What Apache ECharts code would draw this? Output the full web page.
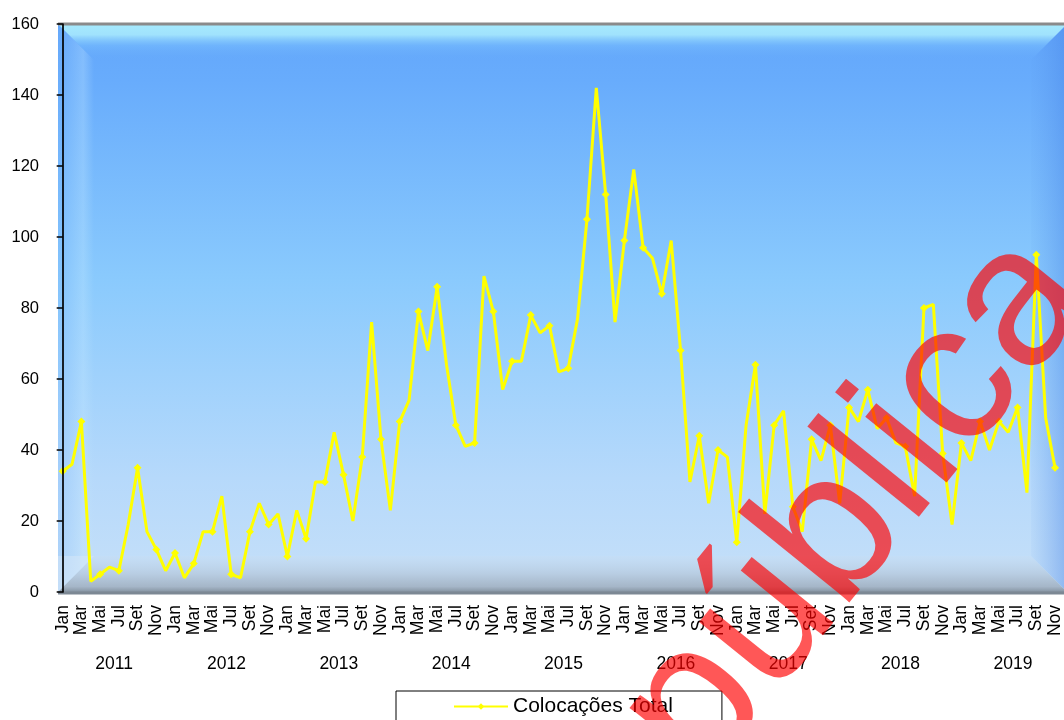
<!DOCTYPE html>
<html><head><meta charset="utf-8">
<script src="https://cdn.jsdelivr.net/npm/echarts@6/dist/echarts.min.js"></script>
<style>html,body{margin:0;padding:0;background:#fff}#c{width:1064px;height:720px}</style>
</head><body><div id="c"></div>
<script>
// ---- data ----
const years = [2011, 2012, 2013, 2014, 2015, 2016, 2017, 2018, 2019];
const monthNames = ['Jan','Fev','Mar','Abr','Mai','Jun','Jul','Ago','Set','Out','Nov','Dez'];
const v2011 = [34, 36, 48, 3, 5, 7, 6, 19, 35, 17, 12, 6];
const v2012 = [11, 4, 8, 17, 17, 27, 5, 4, 17, 25, 19, 22];
const v2013 = [10, 23, 15, 31, 31, 45, 33, 20, 38, 76, 43, 23];
const v2014 = [48, 54, 79, 68, 86, 64, 47, 41, 42, 89, 79, 57];
const v2015 = [65, 65, 78, 73, 75, 62, 63, 77, 105, 142, 112, 76];
const v2016 = [99, 119, 97, 94, 84, 99, 68, 31, 44, 25, 40, 38];
const v2017 = [14, 47, 64, 22, 47, 51, 24, 17, 43, 37, 47, 25];
const v2018 = [52, 48, 57, 46, 49, 42, 41, 27, 80, 81, 39, 19];
const v2019 = [42, 37, 48, 40, 48, 45, 52, 28, 95, 49, 35];
const seriesName = 'Colocações Total';
const yTicks = [0, 20, 40, 60, 80, 100, 120, 140, 160];
const watermarkText = 'pública';

// ---- build ----
const values = [].concat(v2011, v2012, v2013, v2014, v2015, v2016, v2017, v2018, v2019);
const categories = [];
years.forEach(y => monthNames.forEach(m => categories.push(m)));
categories.length = values.length;
const yearPositions = years.map((y, i) => i * 12 + 5.5);

const F = "'Liberation Sans',Arial,sans-serif";
const L = 58, T = 24, W = 1009, H = 568, R = L + W, B = T + H, d = 36;

const chart = echarts.init(document.getElementById('c'), null, {renderer: 'canvas'});
const lg = (x1, y1, x2, y2, stops) => new echarts.graphic.LinearGradient(x1, y1, x2, y2, stops.map(s => ({offset: s[0], color: s[1]})));
const th = 51 * Math.PI / 180;
const wmSize = 198;
const wmX = 708 - 0.31 * wmSize * Math.sin(th), wmY = 788 - 0.31 * wmSize * Math.cos(th);

chart.setOption({
  animation: false,
  backgroundColor: '#ffffff',
  grid: {left: L, top: T, width: W, height: H, containLabel: false},
  graphic: [
    {type: 'rect', z: -20, shape: {x: L, y: T, width: W, height: H},
     style: {fill: lg(0, 0, 0, 1, [[0, '#62a6fb'], [0.1, '#68acfc'], [0.45, '#8acafd'], [0.8, '#b6d9fb'], [1, '#c6e0f8']])}},
    // left bevel
    {type: 'polygon', z: -19, shape: {points: [[L, T], [L + d, T + d], [L + d, B - d], [L, B]]},
     style: {fill: lg(0, 0, 1, 0, [[0, 'rgba(110,175,250,0.25)'], [0.7, 'rgba(195,232,255,0.32)'], [1, 'rgba(195,232,255,0.0)']])}},
    // right bevel
    {type: 'polygon', z: -19, shape: {points: [[R, T], [R, B], [R - d, B - d], [R - d, T + d]]},
     style: {fill: lg(0, 0, 1, 0, [[0, 'rgba(90,150,235,0.05)'], [1, 'rgba(70,130,230,0.45)']])}},
    // top bevel
    {type: 'polygon', z: -18, shape: {points: [[L, T], [R, T], [R - d, T + d], [L + d, T + d]]},
     style: {fill: lg(0, 0, 0, 1, [[0, '#a6eafd'], [0.3, '#a0e2fd'], [0.6, 'rgba(120,190,253,0.55)'], [1, 'rgba(104,172,252,0)']])}},
    // bottom bevel
    {type: 'polygon', z: -18, shape: {points: [[L, B], [L + d, B - d], [R - d, B - d], [R, B]]},
     style: {fill: lg(0, 0, 0, 1, [[0, 'rgba(198,222,245,0.6)'], [0.5, '#b8cde2'], [0.85, '#a5b6c8'], [1, '#8694a2']])}},
    // bottom-left corner light triangle
    {type: 'polygon', z: -17, shape: {points: [[L, B], [L + d, B - d], [L, B - d]]},
     style: {fill: 'rgba(215,232,248,0.5)'}},
    // top border line
    {type: 'line', z: -16, shape: {x1: L, y1: T, x2: R, y2: T}, style: {stroke: '#8a8a8a', lineWidth: 3}},
    // bottom border line
    {type: 'line', z: -16, shape: {x1: L, y1: B + 1, x2: R, y2: B + 1}, style: {stroke: '#7c8894', lineWidth: 3}},
    // watermark
    {type: 'text', z: 100, x: wmX, y: wmY, rotation: th,
     style: {text: watermarkText, font: wmSize + "px 'Liberation Sans',Arial,sans-serif", fill: 'rgba(255,0,0,0.66)', align: 'left', verticalAlign: 'middle'}}
  ],
  legend: {
    data: [seriesName], left: 396, top: 691, orient: 'horizontal',
    borderColor: '#000', borderWidth: 1, borderRadius: 0,
    padding: [5, 49, 20, 57], itemWidth: 54, itemHeight: 8, itemGap: 5,
    textStyle: {fontFamily: F, fontSize: 21, color: '#000'}
  },
  xAxis: [
    {type: 'category', data: categories, boundaryGap: true, position: 'bottom',
     axisLine: {show: false}, axisTick: {show: false}, splitLine: {show: false},
     axisLabel: {interval: 1, rotate: 90, margin: 13, showMinLabel: true, showMaxLabel: true,
       fontFamily: F, fontSize: 17.5, color: '#000'}},
    {type: 'value', min: -0.5, max: values.length - 0.5, position: 'bottom',
     axisLine: {show: false}, axisTick: {show: false}, splitLine: {show: false},
     axisLabel: {customValues: yearPositions, margin: 63, fontFamily: F, fontSize: 17.5, color: '#000',
       formatter: v => String(years[Math.round((v - 5.5) / 12)])}}
  ],
  yAxis: {
    type: 'value', min: yTicks[0], max: yTicks[yTicks.length - 1], interval: 20, z: 5,
    axisLine: {show: true, lineStyle: {color: '#000', width: 1.7}},
    axisTick: {show: true, length: 6, lineStyle: {color: '#000', width: 1.5}},
    splitLine: {show: false},
    axisLabel: {margin: 19, fontFamily: F, fontSize: 16.5, color: '#000'}
  },
  series: [{
    name: seriesName, type: 'line', data: values, xAxisIndex: 0,
    symbol: 'diamond', symbolSize: 8, showSymbol: true,
    lineStyle: {color: '#ffff00', width: 3},
    itemStyle: {color: '#ffff00'}
  }]
});
</script></body></html>
